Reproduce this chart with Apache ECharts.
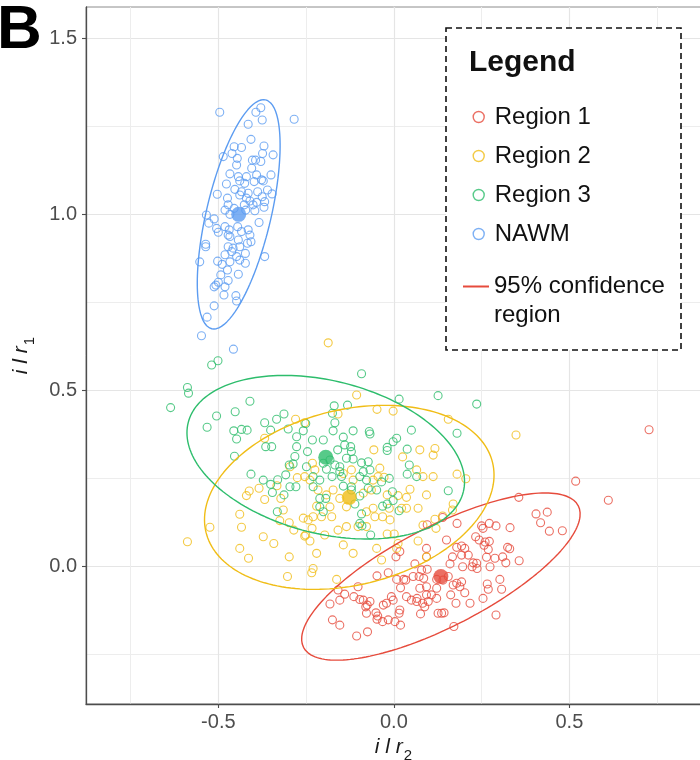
<!DOCTYPE html>
<html>
<head>
<meta charset="utf-8">
<script src="https://cdn.jsdelivr.net/npm/echarts@6/dist/echarts.min.js"></script>
<style>
  html, body { margin: 0; padding: 0; background: #ffffff; }
  #chart { width: 700px; height: 760px; }
</style>
</head>
<body>
<div id="chart"></div>
<script>
// ---------------- data ----------------
const regionNames = ['Region 1', 'Region 2', 'Region 3', 'NAWM'];
const lineLegendName = '95% confidence region';

const xMajorTicks = [-0.5, 0, 0.5];
const xMinorTicks = [-0.75, -0.25, 0.25, 0.75];
const yMajorTicks = [0, 0.5, 1.0, 1.5];
const yMinorTicks = [-0.25, 0.25, 0.75, 1.25];

const region1Points = [[0.518,0.243],[0.611,0.189],[0.356,0.197],[0.405,0.150],[0.437,0.155],[0.418,0.125],[0.443,0.101],[0.480,0.102],[0.331,0.111],[0.291,0.116],[0.272,0.123],[0.250,0.116],[0.254,0.109],[0.233,0.085],[0.243,0.076],[0.260,0.070],[0.272,0.072],[0.257,0.061],[0.269,0.049],[0.193,0.059],[0.202,0.052],[0.179,0.055],[0.150,0.076],[0.180,0.123],[0.139,0.140],[0.095,0.119],[0.093,0.052],[0.093,0.028],[0.060,0.008],[0.079,-0.009],[0.095,-0.007],[0.167,0.028],[0.193,0.033],[0.196,0.000],[0.212,0.033],[0.226,0.011],[0.236,0.010],[0.237,-0.005],[0.223,0.000],[0.274,0.000],[0.264,0.027],[0.288,0.024],[0.310,0.028],[0.319,0.011],[0.357,0.017],[0.324,0.055],[0.330,0.051],[0.302,-0.036],[0.307,-0.064],[0.266,-0.049],[0.269,-0.064],[0.254,-0.090],[0.217,-0.104],[0.202,-0.074],[0.188,-0.057],[0.179,-0.047],[0.169,-0.052],[0.193,-0.043],[0.155,-0.028],[0.140,-0.038],[0.122,-0.036],[0.122,-0.061],[0.107,-0.080],[0.122,-0.090],[0.093,-0.057],[0.074,-0.061],[0.085,-0.033],[0.072,-0.028],[0.055,-0.028],[0.034,-0.038],[0.019,-0.060],[0.028,-0.036],[0.008,-0.036],[-0.016,-0.017],[-0.048,-0.026],[0.006,0.028],[0.017,0.043],[0.177,-0.104],[0.136,-0.132],[0.126,-0.132],[0.143,-0.131],[0.171,-0.170],[0.291,-0.137],[0.093,-0.080],[0.065,-0.099],[0.082,-0.104],[0.088,-0.114],[0.076,-0.134],[0.017,-0.123],[0.015,-0.132],[-0.002,-0.095],[-0.007,-0.085],[-0.021,-0.104],[-0.030,-0.109],[-0.032,-0.156],[-0.016,-0.151],[0.003,-0.156],[0.019,-0.166],[-0.046,-0.140],[-0.051,-0.131],[-0.048,-0.149],[-0.068,-0.099],[-0.076,-0.109],[-0.080,-0.114],[-0.078,-0.132],[-0.087,-0.095],[-0.097,-0.093],[-0.102,-0.057],[-0.114,-0.085],[-0.140,-0.078],[-0.154,-0.095],[-0.159,-0.066],[-0.182,-0.106],[-0.175,-0.151],[-0.154,-0.166],[-0.106,-0.197],[-0.075,-0.185],[0.036,-0.085],[0.050,-0.095],[0.066,-0.090],[0.098,-0.099],[0.727,0.389],[0.160,0.008],[0.162,-0.080]];

const region2Points = [[-0.588,0.071],[-0.524,0.112],[-0.439,0.149],[-0.434,0.112],[-0.439,0.052],[-0.414,0.024],[-0.420,0.202],[-0.412,0.215],[-0.384,0.223],[-0.368,0.191],[-0.368,0.365],[-0.333,0.230],[-0.322,0.194],[-0.315,0.161],[-0.325,0.131],[-0.298,0.125],[-0.285,0.104],[-0.372,0.085],[-0.342,0.066],[-0.303,-0.028],[-0.280,0.419],[-0.275,0.253],[-0.298,0.028],[-0.258,0.138],[-0.244,0.133],[-0.230,0.142],[-0.233,0.109],[-0.254,0.087],[-0.239,0.073],[-0.220,0.038],[-0.230,-0.005],[-0.234,-0.017],[-0.296,0.284],[-0.220,0.172],[-0.232,0.294],[-0.106,0.488],[-0.048,0.447],[-0.002,0.442],[0.155,0.419],[-0.159,0.434],[-0.254,0.409],[-0.057,0.332],[0.025,0.312],[0.074,0.332],[0.117,0.336],[0.112,0.317],[0.065,0.275],[0.083,0.256],[0.112,0.256],[0.180,0.263],[0.205,0.250],[-0.040,0.280],[-0.028,0.254],[-0.045,0.256],[0.093,0.204],[0.046,0.220],[0.036,0.197],[0.012,0.202],[0.022,0.166],[0.036,0.166],[0.069,0.166],[0.117,0.135],[0.169,0.178],[0.167,0.161],[-0.032,0.142],[-0.011,0.133],[-0.054,0.142],[-0.078,0.114],[-0.102,0.114],[-0.135,0.114],[-0.159,0.104],[-0.197,0.090],[-0.177,0.142],[-0.206,0.142],[-0.251,0.090],[-0.144,0.062],[-0.116,0.038],[-0.049,0.052],[-0.019,0.093],[0.001,0.093],[0.008,0.052],[0.069,0.073],[0.120,0.109],[-0.239,0.246],[-0.225,0.275],[-0.254,0.256],[-0.173,0.218],[-0.154,0.194],[-0.087,0.209],[-0.064,0.218],[-0.059,0.166],[-0.019,0.204],[-0.013,0.166],[-0.121,0.275],[-0.116,0.246],[-0.059,0.246],[-0.144,0.265],[-0.216,0.218],[-0.192,0.204],[-0.182,0.170],[-0.135,0.170],[-0.078,0.156],[-0.163,-0.036],[-0.035,0.019],[0.093,0.028],[-0.187,0.636],[0.348,0.374],[0.139,0.144],[0.083,0.118],[0.012,0.066]];

const region3Points = [[-0.501,0.585],[-0.519,0.573],[-0.588,0.509],[-0.585,0.493],[-0.636,0.452],[-0.532,0.396],[-0.505,0.428],[-0.452,0.440],[-0.410,0.470],[-0.456,0.386],[-0.434,0.390],[-0.418,0.388],[-0.448,0.363],[-0.454,0.314],[-0.368,0.409],[-0.334,0.419],[-0.313,0.434],[-0.351,0.388],[-0.365,0.341],[-0.348,0.341],[-0.301,0.391],[-0.277,0.369],[-0.407,0.263],[-0.372,0.246],[-0.351,0.234],[-0.331,0.247],[-0.308,0.261],[-0.298,0.289],[-0.287,0.292],[-0.282,0.313],[-0.277,0.341],[-0.313,0.204],[-0.332,0.156],[-0.346,0.211],[-0.296,0.227],[-0.279,0.227],[-0.170,0.457],[-0.132,0.459],[-0.175,0.436],[-0.168,0.409],[-0.173,0.386],[-0.116,0.386],[-0.070,0.384],[-0.068,0.377],[-0.144,0.368],[-0.140,0.346],[-0.123,0.341],[-0.121,0.327],[-0.135,0.308],[-0.116,0.306],[-0.092,0.295],[-0.073,0.298],[-0.019,0.339],[-0.019,0.330],[0.008,0.365],[-0.002,0.355],[0.038,0.334],[0.050,0.388],[0.126,0.486],[0.236,0.462],[0.155,0.216],[0.065,0.256],[0.038,0.263],[0.044,0.289],[-0.013,0.251],[-0.035,0.241],[-0.049,0.218],[-0.004,0.213],[-0.002,0.188],[-0.032,0.172],[-0.019,0.178],[0.015,0.159],[-0.066,0.090],[-0.097,0.123],[-0.091,0.116],[-0.092,0.150],[-0.111,0.178],[-0.121,0.218],[-0.144,0.229],[-0.176,0.256],[-0.192,0.277],[-0.211,0.246],[-0.230,0.227],[-0.230,0.256],[-0.249,0.284],[-0.246,0.327],[-0.232,0.360],[-0.258,0.386],[-0.251,0.407],[-0.201,0.360],[-0.201,0.294],[-0.211,0.170],[-0.201,0.156],[-0.211,0.194],[-0.194,0.194],[-0.097,0.201],[-0.097,0.256],[-0.087,0.270],[-0.078,0.246],[-0.068,0.275],[-0.149,0.256],[-0.154,0.270],[-0.168,0.289],[-0.182,0.303],[-0.160,0.332],[-0.121,0.227],[-0.073,0.223],[-0.154,0.284],[-0.092,0.548],[0.180,0.379],[0.015,0.476]];

const nawmPoints = [[-0.496,1.291],[-0.379,1.304],[-0.393,1.291],[-0.375,1.269],[-0.415,1.257],[-0.284,1.271],[-0.407,1.214],[-0.370,1.195],[-0.455,1.193],[-0.434,1.191],[-0.461,1.174],[-0.374,1.174],[-0.344,1.170],[-0.486,1.165],[-0.446,1.160],[-0.448,1.141],[-0.403,1.155],[-0.394,1.155],[-0.379,1.151],[-0.405,1.132],[-0.467,1.116],[-0.443,1.108],[-0.420,1.108],[-0.391,1.113],[-0.377,1.099],[-0.350,1.113],[-0.439,1.096],[-0.477,1.087],[-0.425,1.089],[-0.398,1.094],[-0.372,1.096],[-0.453,1.072],[-0.434,1.065],[-0.415,1.061],[-0.388,1.065],[-0.360,1.070],[-0.503,1.058],[-0.347,1.059],[-0.474,1.047],[-0.439,1.056],[-0.420,1.047],[-0.375,1.051],[-0.410,1.039],[-0.391,1.035],[-0.368,1.037],[-0.472,1.028],[-0.426,1.028],[-0.401,1.028],[-0.370,1.021],[-0.481,1.013],[-0.455,1.018],[-0.422,1.013],[-0.396,1.011],[-0.534,0.999],[-0.467,1.001],[-0.384,0.978],[-0.512,0.988],[-0.527,0.976],[-0.505,0.961],[-0.481,0.966],[-0.469,0.957],[-0.445,0.966],[-0.415,0.957],[-0.500,0.950],[-0.472,0.942],[-0.434,0.952],[-0.410,0.942],[-0.536,0.916],[-0.536,0.909],[-0.467,0.938],[-0.443,0.928],[-0.407,0.923],[-0.472,0.909],[-0.458,0.905],[-0.439,0.909],[-0.417,0.919],[-0.481,0.886],[-0.448,0.881],[-0.462,0.895],[-0.423,0.890],[-0.368,0.881],[-0.553,0.866],[-0.502,0.868],[-0.489,0.859],[-0.467,0.866],[-0.439,0.871],[-0.423,0.862],[-0.474,0.843],[-0.493,0.829],[-0.443,0.831],[-0.472,0.813],[-0.500,0.808],[-0.512,0.795],[-0.507,0.800],[-0.481,0.795],[-0.484,0.772],[-0.450,0.770],[-0.448,0.755],[-0.512,0.741],[-0.532,0.709],[-0.548,0.656],[-0.457,0.618]];

// group centroids (filled markers) and 95% confidence ellipse parameters
const centroidX = [0.134, -0.127, -0.194, -0.442];
const centroidY = [-0.028, 0.197, 0.311, 1.001];
const ellipseSemiMajor = [0.440, 0.420, 0.404, 0.334];
const ellipseSemiMinor = [0.142, 0.249, 0.217, 0.092];
const ellipseAngleDeg = [27.2, 13.6, -14.1, 76.7];

// ---------------- chart ----------------
const FONT = '"Liberation Sans", Arial, Helvetica, sans-serif';
const colors = ['#E64B3C', '#F0BD16', '#2DBD6C', '#5C9CF1'];
const allPoints = [region1Points, region2Points, region3Points, nawmPoints];

function ellipsePath(i) {
  const t = ellipseAngleDeg[i] * Math.PI / 180;
  const a = ellipseSemiMajor[i], b = ellipseSemiMinor[i];
  const pts = [];
  const n = 180;
  for (let k = 0; k <= n; k++) {
    const s = k / n * 2 * Math.PI;
    const u = a * Math.cos(s), v = b * Math.sin(s);
    pts.push([centroidX[i] + u * Math.cos(t) - v * Math.sin(t),
              centroidY[i] + u * Math.sin(t) + v * Math.cos(t)]);
  }
  return pts;
}

const XMIN = -0.877, XMAX = 0.875, YMIN = -0.39, YMAX = 1.59;
const tickFmt = v => (Math.abs(v) < 1e-9 ? 0 : v).toFixed(1);

const series = [];
regionNames.forEach((nm, i) => {
  series.push({
    name: nm, type: 'scatter', data: allPoints[i], symbol: 'circle', symbolSize: 8,
    itemStyle: { color: 'rgba(255,255,255,0)', borderColor: colors[i], borderWidth: 1.1 },
    z: 2
  });
});
regionNames.forEach((nm, i) => {
  series.push({
    name: nm + ' ellipse', type: 'line', data: ellipsePath(i), showSymbol: false, symbol: 'none',
    lineStyle: { color: colors[i], width: 1.4 }, silent: true, z: 3
  });
});
regionNames.forEach((nm, i) => {
  series.push({
    name: nm + ' centroid', type: 'scatter', data: [[centroidX[i], centroidY[i]]],
    symbol: 'circle', symbolSize: 15, itemStyle: { color: colors[i] }, z: 4
  });
});
series.push({
  name: lineLegendName, type: 'line', data: [], showSymbol: false,
  itemStyle: { color: colors[0] }, lineStyle: { color: colors[0], width: 2 }
});

const nameRich = () => ({
  a: { fontStyle: 'italic', fontSize: 21, fontFamily: FONT, color: '#1a1a1a', verticalAlign: 'top', lineHeight: 26 },
  b: { fontSize: 15, fontFamily: FONT, color: '#1a1a1a', verticalAlign: 'bottom', lineHeight: 26, padding: [0, 0, 0, 1] }
});

const option = {
  animation: false,
  backgroundColor: '#ffffff',
  textStyle: { fontFamily: FONT },
  grid: {
    left: 86, top: 7, width: 615, height: 697, containLabel: false, outerBoundsMode: 'none',
    show: true, borderColor: '#8c8c8c', borderWidth: 1, backgroundColor: 'rgba(0,0,0,0)'
  },
  xAxis: [
    {
      type: 'value', min: XMIN, max: XMAX, gridIndex: 0,
      name: '{a|i l r}{b|2}', nameLocation: 'middle', nameGap: 16,
      nameTextStyle: { rich: nameRich() },
      axisLine: { show: true, onZero: false, lineStyle: { color: '#4d4d4d', width: 1.3 } },
      axisTick: { show: true, length: 4, customValues: xMajorTicks, lineStyle: { color: '#4d4d4d', width: 1.1 } },
      axisLabel: { customValues: xMajorTicks, formatter: tickFmt, color: '#4d4d4d', fontSize: 20, fontFamily: FONT, margin: 8 },
      splitLine: { show: true, lineStyle: { color: '#e5e5e5', width: 1.2 } }
    },
    {
      type: 'value', min: XMIN, max: XMAX, gridIndex: 0, position: 'bottom',
      axisLine: { show: false }, axisLabel: { show: false },
      axisTick: { show: false, customValues: xMinorTicks },
      splitLine: { show: true, lineStyle: { color: '#ededed', width: 1 } }
    }
  ],
  yAxis: [
    {
      type: 'value', min: YMIN, max: YMAX, gridIndex: 0,
      name: '{a|i l r}{b|1}', nameLocation: 'middle', nameGap: 49, nameRotate: 90,
      nameTextStyle: { rich: nameRich() },
      axisLine: { show: true, onZero: false, lineStyle: { color: '#4d4d4d', width: 1.3 } },
      axisTick: { show: true, length: 4, customValues: yMajorTicks, lineStyle: { color: '#4d4d4d', width: 1.1 } },
      axisLabel: { customValues: yMajorTicks, formatter: tickFmt, color: '#4d4d4d', fontSize: 20, fontFamily: FONT, margin: 9 },
      splitLine: { show: true, lineStyle: { color: '#e5e5e5', width: 1.2 } }
    },
    {
      type: 'value', min: YMIN, max: YMAX, gridIndex: 0, position: 'left',
      axisLine: { show: false }, axisLabel: { show: false },
      axisTick: { show: false, customValues: yMinorTicks },
      splitLine: { show: true, lineStyle: { color: '#ededed', width: 1 } }
    }
  ],
  legend: [
    {
      data: regionNames, orient: 'vertical', left: 472.5, top: 105, padding: 0,
      itemWidth: 22, itemHeight: 11, itemGap: 15, icon: 'circle', selectedMode: false,
      itemStyle: { borderWidth: 1.4 },
      textStyle: { fontSize: 24, lineHeight: 24, color: '#111111', fontFamily: FONT }, z: 6
    },
    {
      data: [lineLegendName], orient: 'vertical', left: 463, top: 243, padding: 0,
      itemWidth: 26, itemHeight: 2, icon: 'rect', selectedMode: false,
      formatter: () => '\n95% confidence\nregion',
      textStyle: { fontSize: 24, lineHeight: 29, color: '#111111', fontFamily: FONT }, z: 6
    }
  ],
  graphic: [
    {
      type: 'rect', z: 5, silent: true,
      shape: { x: 446, y: 28, width: 235, height: 322 },
      style: { fill: '#ffffff', stroke: '#111111', lineWidth: 1.6, lineDash: [6, 4] }
    },
    {
      type: 'text', z: 6, left: 469, top: 48, silent: true,
      style: { text: 'Legend', fontSize: 30, fontWeight: 'bold', fontFamily: FONT, fill: '#111111' }
    },
    {
      type: 'text', z: 6, left: -3, top: 0, silent: true,
      style: { text: 'B', fontSize: 62, fontWeight: 'bold', fontFamily: FONT, fill: '#000000' }
    }
  ],
  series: series
};

const chart = echarts.init(document.getElementById('chart'), null, { renderer: 'canvas' });
chart.setOption(option);
</script>
</body>
</html>
